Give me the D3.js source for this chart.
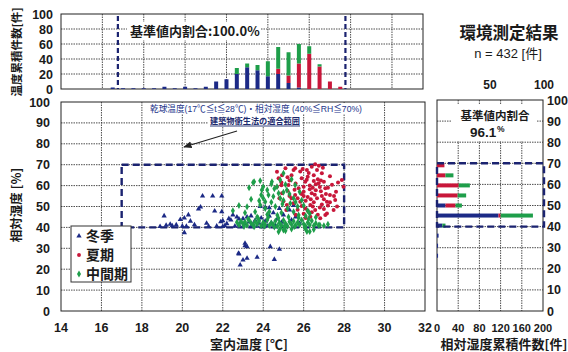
<!DOCTYPE html>
<html><head><meta charset="utf-8">
<script src="https://cdn.jsdelivr.net/npm/d3@7"></script>
<style>
body{margin:0;background:#fff}
svg{display:block}
text{font-family:"Liberation Sans","Noto Sans CJK JP",sans-serif;fill:#1a1a1a}
.jp{font-family:"Noto Sans CJK JP","Liberation Sans",sans-serif;font-weight:bold}
</style>
</head><body>
<svg id="c" width="568" height="352"></svg>
<script>
// ---------- data ----------
const tempTicks = [14,16,18,20,22,24,26,28,30,32];
const rhTicks = [0,10,20,30,40,50,60,70,80,90,100];
const histTicks = [0,20,40,60,80,100];
const countTicks = [0,40,80,120,160,200];
const pctTicks = [50,100];
const tempRange = [17,28];
const rhRange = [40,70];

// temperature histogram (0.5°C bins)
const tempBins   = [16.5,17,17.5,18,18.5,19,19.5,20,20.5,21,21.5,22,22.5,23,23.5,24,24.5,25,25.5,26,26.5,27,27.5];
const tempWinter = [2,1,1,1,1,3,1,3,1,3,10,13,20,29,25,17,20,8,2,0,0,0,0];
const tempSummer = [0,0,0,0,0,0,0,0,0,0,0,0,0,0,0,0,7,10,32,47,30,10,3];
const tempMid    = [0,0,0,0,0,0,0,0,0,0,0,0,8,5,7,20,29,31,26,10,3,0,0];

// humidity histogram (5% bins)
const rhBins   = [70,65,60,55,50,45,40,35,30,25];
const rhWinter = [0,0,0,0,16,116,10,3,2,2];
const rhSummer = [14,16,41,39,19,4,0,0,0,0];
const rhMid    = [0,15,21,16,12,61,6,0,0,0];

// scatter [temperature, RH]
const winterPts = [[18.9,40.4],[19.1,45.5],[19.2,41.0],[19.4,41.5],[19.5,40.8],[19.7,41.2],[19.9,43.8],[20.0,40.6],[20.1,44.5],[20.1,37.5],[20.3,46.0],[20.4,43.0],[20.2,40.5],[20.6,41.3],[20.9,49.8],[21.0,55.0],[21.5,55.0],[21.95,55.0],[20.8,48.8],[21.6,47.8],[21.95,47.5],[21.2,42.0],[21.3,40.5],[21.9,42.7],[21.7,40.6],[22.0,43.2],[22.0,40.4],[22.1,40.8],[22.2,41.8],[22.3,44.2],[22.4,43.5],[22.5,46.0],[22.6,40.6],[22.7,45.0],[22.8,44.0],[22.8,41.2],[22.9,42.5],[23.0,40.5],[23.0,44.2],[23.1,41.8],[23.2,45.0],[23.3,42.6],[23.4,40.8],[23.4,45.5],[23.5,41.5],[23.6,43.4],[23.7,40.6],[23.8,42.0],[23.85,50.0],[23.9,44.5],[24.0,41.3],[24.1,49.6],[24.1,43.0],[24.2,40.7],[24.3,49.4],[24.3,45.5],[24.4,42.2],[24.5,47.0],[24.6,41.0],[24.7,44.0],[24.8,49.0],[24.9,42.5],[25.0,46.0],[25.1,41.5],[25.3,48.3],[25.4,43.5],[25.5,50.5],[25.6,45.0],[25.8,42.0],
 [22.78,27.6],[22.86,22.0],[23.1,32.4],[23.1,31.2],[23.2,30.8],[23.2,25.2],[23.0,24.4],[22.8,27.3],[23.7,25.7],[24.35,30.8],[24.8,29.5],[24.55,24.7]];
const summerPts = [[25.58,68.3],[25.83,66.7],[26.16,67.5],[26.4,69.0],[26.57,70.2],[26.66,67.5],[26.9,65.9],[26.5,65.0],[25.4,65.0],[24.76,63.5],[24.68,66.6],[25.1,68.3],[26.08,61.9],[26.74,61.1],[27.07,58.7],[27.3,55.5],[27.56,53.1],[27.15,52.3],[27.48,48.3],[27.07,45.9],[26.82,44.4],[26.33,45.1],[26.08,49.1],[25.83,52.3],[25.58,55.5],[26.0,57.1],[26.4,56.3],[26.66,53.9],[26.33,50.7],[26.57,48.3],[25.75,58.7],[25.4,53.9],[25.17,50.7],[24.93,56.3],[27.89,62.7],[27.97,59.5],[25.25,60.3],[27.3,64.5],[26.3,60.0],[26.9,55.0],[26.2,54.5],[27.2,50.5],[24.93,65.0],[25.5,67.5],[24.68,59.5],[25.14,48.3],[27.65,50.0],[27.15,46.7],
 [25.9,63.5],[26.2,64.2],[26.7,63.0],[27.0,61.8],[26.5,62.2],[26.0,59.5],[25.6,61.0],[25.3,62.5],[26.8,59.3],[27.4,60.4],[27.6,57.0],[27.1,56.0],[26.6,57.8],[26.3,58.2],[25.9,56.0],[25.7,54.0],[26.1,52.8],[26.5,52.0],[26.9,51.0],[27.3,52.0],[26.8,49.5],[26.4,47.2],[26.0,46.5],[25.7,48.5],[25.5,51.5],[25.9,50.2],[26.2,48.0],[26.7,46.0],[27.0,48.8],[26.1,44.5],[25.6,46.0],[25.2,57.5],[24.9,60.2],[25.0,52.5],[24.8,54.0],[25.3,55.0],[26.45,59.0],[26.85,62.5],[27.2,59.0],[27.5,55.0],[26.25,66.0],[25.95,68.0],[26.75,69.5],[26.95,68.5],[25.2,64.0],[24.9,61.5],[26.6,60.6],[26.0,55.0],[26.35,53.5],[27.0,53.5],[25.55,58.0],[26.15,62.8],[26.55,55.6],[26.85,57.3],[27.7,61.5],[26.45,50.0]];
const midPts = [[22.7,42.5],[22.8,41.2],[22.9,43.0],[23.0,41.8],[23.1,42.6],[23.2,41.0],[23.3,43.5],[23.4,42.0],[23.5,41.2],[23.6,42.8],[23.7,41.6],[23.8,43.2],[23.9,40.8],[24.0,42.4],[24.1,41.4],[24.2,43.6],[24.3,40.9],[24.4,42.1],[24.5,41.3],[24.6,43.1],[24.7,40.7],[24.8,42.2],[24.9,41.0],[25.0,43.4],[25.1,41.9],[25.2,40.6],[25.3,42.7],[25.4,41.4],[25.5,43.0],[25.6,40.9],[25.7,42.3],[25.8,41.2],[25.9,43.5],[26.0,41.6],[26.1,40.5],[26.2,42.4],[26.3,41.1],[26.4,43.2],[26.5,40.8],[26.6,42.0],[26.8,41.2],[27.0,40.8],[27.2,41.5],
 [23.05,40.4],[23.55,40.3],[24.05,40.5],[24.55,40.2],[25.05,40.3],[25.55,40.4],[26.05,40.2],[23.25,44.0],[23.75,44.4],[24.25,44.8],[24.75,44.5],[25.25,45.0],[25.75,44.6],[26.25,44.0],
 [24.76,37.9],[25.0,38.8],[25.1,38.4],[26.08,39.5],[26.3,38.0],[26.16,38.0],[24.84,39.5],[26.74,41.0],[26.5,39.0],[25.4,39.2],
 [23.55,61.9],[23.85,62.3],[24.43,61.9],[24.84,62.7],[25.0,65.9],[24.68,59.5],[23.93,57.9],[24.26,55.5],[24.1,52.3],[23.85,50.7],[24.1,49.0],[24.84,53.9],[25.17,57.9],[25.58,60.3],[25.34,51.5],[25.7,50.0],[25.75,45.9],[26.2,48.0],[23.5,61.5],[24.2,57.9],[24.76,56.3],[25.0,53.0],[23.2,49.9],[23.7,45.0],
 [24.0,54.0],[24.4,52.0],[24.6,50.0],[24.3,47.5],[24.9,47.0],[25.2,49.0],[25.5,47.5],[24.55,58.5],[24.0,59.5],[25.3,56.0],[25.5,54.0],[25.9,53.0],[24.7,45.8],[24.2,46.2],[23.6,47.5],[23.4,53.5],[23.9,55.5],[25.1,60.5],[25.4,63.0],[24.95,51.2],[25.8,57.0],[26.0,50.5],[26.3,46.5],[25.6,52.2],[24.5,54.8],[23.8,52.8],[22.5,48.0],[22.8,50.5],[23.1,47.0],[26.1,45.5],[26.6,44.8],[25.0,56.8],[24.4,60.8],[23.3,59.0]];

const seasons = ["冬季","夏期","中間期"];
const colors = ["#1c2a86","#c8173a","#1e9e4a"];
const navy = "#1b2370";
const total = 432;
const ratioTemp = "100.0%";
const ratioRH = "96.1";

// ---------- drawing ----------
const svg = d3.select("#c");
const gridColor = "#3a3a3a";

const x = d3.scaleLinear().domain([14,32]).range([61,425]);
const y = d3.scaleLinear().domain([0,100]).range([311,102]);
const xt = d3.scaleLinear().domain([14,31.5]).range([61,423]);
const yt = d3.scaleLinear().domain([0,100]).range([89,14]);
const xr = d3.scaleLinear().domain([0,200]).range([437,543]);
const yr = d3.scaleLinear().domain([0,100]).range([311,100]);
const yrBand = d3.scaleBand().domain(d3.range(100,-1,-5)).range([100,311]);

function grid(g, xs, xv, ys, yv, x0, x1, y0, y1){
  g.selectAll(".gv").data(xv).join("line")
    .attr("x1",d=>xs(d)).attr("x2",d=>xs(d)).attr("y1",y0).attr("y2",y1)
    .attr("stroke",gridColor).attr("stroke-width",0.9).attr("stroke-dasharray","1.5,1");
  g.selectAll(".gh").data(yv).join("line")
    .attr("y1",d=>ys(d)).attr("y2",d=>ys(d)).attr("x1",x0).attr("x2",x1)
    .attr("stroke",gridColor).attr("stroke-width",0.9).attr("stroke-dasharray","1.5,1");
}

// ===== top histogram =====
const gt = svg.append("g");
gt.append("g").call(g=>grid(g, xt, [16,18,20,22,24,26,28,30], yt, [20,40,60,80], 61,423,14,89));
gt.append("rect").attr("x",61).attr("y",14).attr("width",362).attr("height",75)
  .attr("fill","none").attr("stroke","#222").attr("stroke-width",1);
const stackT = tempBins.map((t,i)=>({t, v:[tempWinter[i],tempSummer[i],tempMid[i]]}));
stackT.forEach(d=>{
  let acc=0;
  d.v.forEach((v,k)=>{
    if(v>0){
      gt.append("rect").attr("x",xt(d.t)-2).attr("width",4)
        .attr("y",yt(acc+v)).attr("height",yt(acc)-yt(acc+v)).attr("fill",colors[k]);
    }
    acc+=v;
  });
});
tempRange.forEach(t=>{
  gt.append("line").attr("x1",xt(t-0.25)).attr("x2",xt(t-0.25)).attr("y1",16).attr("y2",89)
    .attr("stroke",navy).attr("stroke-width",2.2).attr("stroke-dasharray","5,3");
});
gt.append("rect").attr("x",127).attr("y",22).attr("width",134).attr("height",18).attr("fill","#fff");
gt.append("text").attr("class","jp").attr("x",130).attr("y",36).attr("font-size",13)
  .text("基準値内割合:"+ratioTemp);
gt.selectAll(".yl").data(histTicks).join("text")
  .attr("x",53).attr("y",d=>yt(d)+4.5).attr("text-anchor","end").attr("font-size",12.5)
  .attr("font-weight","bold").text(d=>d);
svg.append("text").attr("class","jp").attr("transform","translate(21,52) rotate(-90)")
  .attr("text-anchor","middle").attr("font-size",11.5).text("温度累積件数[件]");

// ===== main scatter =====
const gm = svg.append("g");
gm.append("g").call(g=>grid(g, x, [16,18,20,22,24,26,28,30], y, [10,20,30,40,50,60,70,80,90], 61,425,102,311));
gm.append("rect").attr("x",61).attr("y",102).attr("width",364).attr("height",209)
  .attr("fill","none").attr("stroke","#222").attr("stroke-width",1);
gm.selectAll(".xl").data(tempTicks).join("text")
  .attr("x",d=>x(d)).attr("y",332).attr("text-anchor","middle").attr("font-size",12.5).attr("font-weight","bold").text(d=>d);
gm.selectAll(".yl").data(rhTicks).join("text")
  .attr("x",50).attr("y",d=>y(d)+4.5).attr("text-anchor","end").attr("font-size",12.5).attr("font-weight","bold").text(d=>d);
gm.append("rect").attr("x",146).attr("y",103).attr("width",222).attr("height",11).attr("fill","#fff");
gm.append("text").attr("x",150).attr("y",111.5).attr("font-size",9).attr("textLength",212).attr("lengthAdjust","spacingAndGlyphs")
  .style("fill","#24358a").attr("font-family","Noto Sans CJK JP")
  .text("乾球温度(17℃≦t≦28℃)・相対湿度 (40%≦RH≦70%)");
gm.append("rect").attr("x",208).attr("y",115).attr("width",94).attr("height",12).attr("fill","#fff");
gm.append("text").attr("class","jp").attr("x",255).attr("y",124).attr("font-size",8.5).attr("text-anchor","middle")
  .attr("textLength",90).attr("lengthAdjust","spacingAndGlyphs").style("fill","#1b2a6e").text("建築物衛生法の適合範囲");
gm.append("line").attr("x1",210).attr("x2",300).attr("y1",126).attr("y2",126).attr("stroke","#1b2a6e").attr("stroke-width",0.9);
svg.append("defs").append("marker").attr("id","ah").attr("viewBox","0 0 10 10").attr("refX",9).attr("refY",5)
  .attr("markerWidth",7).attr("markerHeight",7).attr("orient","auto")
  .append("path").attr("d","M0,1 L10,5 L0,9 z").attr("fill","#222");
gm.append("line").attr("x1",237).attr("y1",131).attr("x2",184).attr("y2",147)
  .attr("stroke","#222").attr("stroke-width",1.2).attr("marker-end","url(#ah)");
gm.append("rect").attr("x",x(tempRange[0])).attr("y",y(rhRange[1]))
  .attr("width",x(tempRange[1])-x(tempRange[0])).attr("height",y(rhRange[0])-y(rhRange[1]))
  .attr("fill","none").attr("stroke",navy).attr("stroke-width",2.4).attr("stroke-dasharray","7,4");
const tri = d3.symbol(d3.symbolTriangle).size(12);
const dia = d3.symbol(d3.symbolDiamond).size(14);
gm.selectAll(".w").data(winterPts).join("path").attr("d",tri)
  .attr("transform",d=>`translate(${x(d[0])},${y(d[1])})`).attr("fill",colors[0]);
gm.selectAll(".s").data(summerPts).join("circle").attr("r",2.0)
  .attr("cx",d=>x(d[0])).attr("cy",d=>y(d[1])).attr("fill",colors[1]);
gm.selectAll(".m").data(midPts).join("path").attr("d",dia)
  .attr("transform",d=>`translate(${x(d[0])},${y(d[1])})`).attr("fill",colors[2]);
const lg = gm.append("g");
lg.append("rect").attr("x",71).attr("y",226).attr("width",60).attr("height",56).attr("fill","#fff").attr("stroke","#333");
seasons.forEach((s,i)=>{
  const cy = 236+i*19;
  const sym = i===0? d3.symbol(d3.symbolTriangle).size(12)() : i===1? d3.symbol(d3.symbolCircle).size(12)() : d3.symbol(d3.symbolDiamond).size(14)();
  lg.append("path").attr("d",sym).attr("transform",`translate(79,${cy})`).attr("fill",colors[i]);
  lg.append("text").attr("class","jp").attr("x",86).attr("y",cy+5).attr("font-size",14).text(s);
});
svg.append("text").attr("class","jp").attr("transform","translate(21,205) rotate(-90)")
  .attr("text-anchor","middle").attr("font-size",12.5).text("相対湿度 [%]");
svg.append("text").attr("class","jp").attr("x",249).attr("y",349)
  .attr("text-anchor","middle").attr("font-size",13).text("室内温度 [℃]");

// ===== right histogram =====
const gr = svg.append("g");
gr.append("g").call(g=>grid(g, xr, [40,80,120,160], yr, [10,20,30,40,50,60,70,80,90], 437,543,100,311));
gr.append("rect").attr("x",437).attr("y",100).attr("width",106).attr("height",211)
  .attr("fill","none").attr("stroke","#222").attr("stroke-width",1);
const stackR = rhBins.map((r,i)=>({r, v:[rhWinter[i],rhSummer[i],rhMid[i]]}));
stackR.forEach(d=>{
  let acc=0;
  const cy = yrBand(d.r)+yrBand.bandwidth()/2;
  d.v.forEach((v,k)=>{
    if(v>0){
      gr.append("rect").attr("x",xr(acc)).attr("width",xr(acc+v)-xr(acc))
        .attr("y",cy-2).attr("height",4).attr("fill",colors[k]);
    }
    acc+=v;
  });
});
gr.append("rect").attr("x",xr(0)).attr("y",yr(rhRange[1])).attr("width",xr(200)-xr(0)+1)
  .attr("height",yr(rhRange[0])-yr(rhRange[1]))
  .attr("fill","none").attr("stroke",navy).attr("stroke-width",2.4).attr("stroke-dasharray","7,4");
gr.append("rect").attr("x",452).attr("y",104).attr("width",84).attr("height",37).attr("fill","#fff");
gr.append("text").attr("class","jp").attr("x",495).attr("y",120).attr("text-anchor","middle").attr("font-size",11.5).text("基準値内割合");
gr.append("text").attr("x",470).attr("y",137).attr("font-size",13.5).attr("font-weight","bold").text(ratioRH);
gr.append("text").attr("x",497).attr("y",132).attr("font-size",8.5).attr("font-weight","bold").text("%");
gr.selectAll(".xl").data(countTicks).join("text")
  .attr("x",d=>xr(d)).attr("y",332).attr("text-anchor","middle").attr("font-size",11).attr("font-weight","bold").text(d=>d);
gr.selectAll(".yl").data(rhTicks).join("text")
  .attr("x",547).attr("y",d=>yr(d)+4.5).attr("font-size",12.5).attr("font-weight","bold").text(d=>d);
const xp = d3.scaleLinear().domain([0,100]).range([437,543]);
gr.selectAll(".pl").data(pctTicks).join("text")
  .attr("x",d=>xp(d)+(d===100?1:0)).attr("y",89).attr("text-anchor","middle").attr("font-size",12).attr("font-weight","bold").text(d=>d);
svg.append("text").attr("class","jp").attr("x",504).attr("y",349)
  .attr("text-anchor","middle").attr("font-size",13).text("相対湿度累積件数[件]");

svg.append("text").attr("class","jp").attr("x",509).attr("y",39).attr("text-anchor","middle").attr("font-size",16.5).text("環境測定結果");
svg.append("text").attr("x",508).attr("y",58).attr("text-anchor","middle").attr("font-size",13)
  .attr("font-family","Noto Sans CJK JP").text(`n =  ${total} [件]`);
</script>
</body></html>
